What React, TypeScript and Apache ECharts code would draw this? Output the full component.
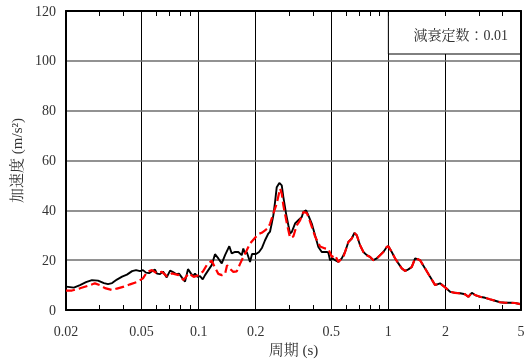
import React, { useEffect, useRef } from "react";
import * as echarts from "echarts";

const majorTicks = [0.02, 0.05, 0.1, 0.2, 0.5, 1, 2, 5];
const minorTicks = [0.03, 0.04, 0.06, 0.07, 0.08, 0.09, 0.3, 0.4, 0.6, 0.7, 0.8, 0.9, 3, 4];
const yMin = 0;
const yMax = 120;
const yStep = 20;

const xTitle = "周期 (s)";
const yTitle = "加速度 (m/s²)";
const noteText = "減衰定数：0.01";

const periodsBlack = [
  0.02, 0.021, 0.022, 0.0237, 0.0255, 0.0274, 0.0295, 0.0317, 0.0333, 0.035,
  0.0371, 0.0395, 0.0419, 0.0446, 0.0468, 0.0491, 0.0509, 0.0528, 0.0548, 0.0568,
  0.0589, 0.0603, 0.0626, 0.0649, 0.0679, 0.0707, 0.0733, 0.076, 0.0788, 0.0817,
  0.0848, 0.0879, 0.0912, 0.0934, 0.0957, 0.0987, 0.1017, 0.1051, 0.1081, 0.1125,
  0.1172, 0.122, 0.127, 0.1324, 0.1378, 0.1451, 0.1494, 0.1556, 0.1619, 0.1687,
  0.172, 0.1756, 0.1793, 0.1866, 0.1912, 0.2007, 0.2082, 0.2159, 0.2239, 0.233,
  0.2379, 0.2428, 0.2476, 0.2528, 0.258, 0.2663, 0.2742, 0.2796, 0.2889, 0.2971,
  0.3033, 0.3096, 0.3222, 0.3354, 0.3496, 0.3564, 0.3683, 0.3787, 0.3946, 0.4108,
  0.4276, 0.4456, 0.4734, 0.4827, 0.4928, 0.5092, 0.5237, 0.5451, 0.568, 0.5912,
  0.6154, 0.6413, 0.6619, 0.6815, 0.7093, 0.7383, 0.7695, 0.8009, 0.8336, 0.8687,
  0.9042, 0.9412, 0.9808, 1.0, 1.042, 1.085, 1.129, 1.177, 1.225, 1.275,
  1.329, 1.383, 1.439, 1.469, 1.561, 1.659, 1.763, 1.873, 1.99, 2.115,
  2.247, 2.388, 2.537, 2.641, 2.752, 2.864, 3.043, 3.235, 3.436, 3.651,
  3.88, 4.124, 4.38, 4.656, 5.0,
];
const accelBlack = [
  9.4, 9.2, 9.0, 10.0, 11.2, 12.0, 11.8, 10.8, 10.4, 10.8,
  12.2, 13.4, 14.2, 15.6, 16.0, 15.6, 16.0, 15.0, 14.8, 15.6,
  16.2, 14.6, 14.4, 15.4, 13.1, 15.8, 15.2, 14.4, 14.6, 13.0,
  11.4, 16.4, 14.6, 13.6, 14.6, 13.3, 13.6, 12.3, 14.0, 16.0,
  18.0, 22.4, 20.7, 18.7, 22.0, 25.6, 22.7, 23.3, 23.3, 22.0,
  24.7, 22.7, 23.3, 19.3, 22.5, 22.5, 23.3, 25.0, 28.0, 30.7,
  31.5, 34.7, 38.0, 43.3, 49.3, 51.0, 50.0, 45.3, 38.7, 34.0,
  30.7, 31.3, 34.7, 36.0, 37.3, 39.3, 40.0, 38.0, 34.7, 30.0,
  25.3, 23.3, 23.3, 23.0, 20.0, 20.7, 20.0, 19.3, 20.7, 23.3,
  27.3, 28.7, 30.9, 30.0, 26.0, 23.3, 22.0, 21.3, 20.0, 20.7,
  22.0, 23.3, 25.3, 25.6, 23.3, 20.7, 18.7, 16.7, 15.7, 16.3,
  17.3, 20.7, 20.3, 20.0, 16.7, 13.3, 10.0, 10.7, 9.1, 7.3,
  6.9, 6.7, 6.3, 5.3, 6.9, 6.0, 5.3, 4.9, 4.3, 3.7,
  3.1, 2.9, 2.9, 2.8, 2.3,
];

const periodsRed = [
  0.02, 0.0215, 0.0237, 0.0261, 0.0284, 0.0302, 0.0321, 0.035, 0.0371, 0.0404,
  0.0435, 0.0473, 0.0509, 0.0535, 0.0568, 0.0603, 0.0641, 0.0681, 0.0724, 0.0785,
  0.0832, 0.0887, 0.0942, 0.1001, 0.1055, 0.1103, 0.1172, 0.122, 0.127, 0.1324,
  0.1378, 0.1412, 0.1464, 0.1524, 0.1588, 0.1653, 0.172, 0.1793, 0.1866, 0.1983,
  0.2064, 0.2151, 0.2239, 0.233, 0.2379, 0.2476, 0.258, 0.2686, 0.2742, 0.2796,
  0.2913, 0.3033, 0.3156, 0.3289, 0.3425, 0.3564, 0.3714, 0.3866, 0.4108, 0.4365,
  0.464, 0.4827, 0.5031, 0.5237, 0.5451, 0.5792, 0.5912,
  0.6154, 0.6413, 0.6619, 0.6815, 0.7093, 0.7383, 0.7695, 0.8009, 0.8336, 0.8687,
  0.9042, 0.9412, 0.9808, 1.0, 1.042, 1.085, 1.129, 1.177, 1.225, 1.275,
  1.329, 1.383, 1.439, 1.469, 1.561, 1.659, 1.763, 1.873, 1.99, 2.115,
  2.247, 2.388, 2.537, 2.641, 2.752, 2.864, 3.043, 3.235, 3.436, 3.651,
  3.88, 4.124, 4.38, 4.656, 5.0,
];
const accelRed = [
  7.8, 7.8, 8.7, 9.7, 10.7, 10.0, 8.8, 8.0, 8.6, 9.4,
  10.3, 11.2, 12.7, 15.3, 16.0, 14.7, 15.3, 13.5, 14.7, 14.0,
  12.0, 14.7, 13.3, 14.0, 15.5, 18.0, 19.8, 17.0, 14.5, 14.0,
  14.5, 18.0, 16.5, 15.3, 15.5, 18.5, 21.3, 24.0, 26.7, 29.0,
  30.5, 31.0, 32.0, 33.0, 34.7, 38.7, 42.7, 48.7, 46.7, 42.0,
  35.0, 29.0, 29.5, 34.0, 36.0, 39.3, 39.0, 35.5, 29.5, 25.5,
  24.7, 24.5, 21.3, 22.0, 19.3, 21.3, 23.3,
  27.3, 28.7, 30.9, 30.0, 26.0, 23.3, 22.0, 21.3, 20.0, 20.7,
  22.0, 23.3, 25.3, 25.6, 23.3, 20.7, 18.7, 16.7, 15.7, 16.3,
  17.3, 20.7, 20.3, 20.0, 16.7, 13.3, 10.0, 10.7, 9.1, 7.3,
  6.9, 6.7, 6.3, 5.3, 6.9, 6.0, 5.3, 4.9, 4.3, 3.7,
  3.1, 2.9, 2.9, 2.8, 2.3,
];

export default function App() {
  const ref = useRef<HTMLDivElement>(null);
  useEffect(() => {
    if (!ref.current) return;
    const chart = echarts.init(ref.current, null, { renderer: "svg" });
    const lg = (v: number) => Math.log10(v);
    const xMin = lg(majorTicks[0]);
    const xMax = lg(majorTicks[majorTicks.length - 1]);
    const majorLogs = majorTicks.map(lg);
    const allTicks = [...majorTicks, ...minorTicks].map(lg).sort((a, b) => a - b);
    const serif = "'Liberation Serif', 'Noto Serif CJK JP', 'Noto Sans CJK JP', serif";
    const fmt = (v: number) => {
      const t = majorTicks.find((m) => Math.abs(lg(m) - v) < 1e-6);
      return t === undefined ? "" : String(t);
    };
    const frameLine = { show: true, onZero: false, lineStyle: { color: "#000", width: 2 } };
    const labelStyle = { fontFamily: serif, fontSize: 14, color: "#333" };

    chart.setOption({
      animation: false,
      grid: { left: 66, right: 3, top: 11, bottom: 50, containLabel: false, outerBoundsMode: "none" },
      xAxis: [
        {
          type: "value", position: "bottom", min: xMin, max: xMax, z: 3,
          axisLine: frameLine,
          axisTick: { show: true, inside: true, length: 5, customValues: allTicks, lineStyle: { color: "#000", width: 1 } },
          axisLabel: { ...labelStyle, customValues: majorLogs, formatter: fmt, margin: 14, showMinLabel: true, showMaxLabel: true },
          splitLine: { show: false },
          name: xTitle, nameLocation: "middle", nameGap: 28,
          nameTextStyle: { ...labelStyle, fontSize: 15 },
        },
        {
          type: "value", position: "top", min: xMin, max: xMax, z: 5,
          axisLine: frameLine,
          axisTick: { show: true, inside: true, length: 5, customValues: allTicks, lineStyle: { color: "#000", width: 1 } },
          axisLabel: { show: false },
          splitLine: { show: false },
        },
        {
          type: "value", position: "bottom", min: xMin, max: xMax, z: 0,
          axisLine: { show: false },
          axisTick: { show: false, customValues: majorLogs },
          axisLabel: { show: false, customValues: majorLogs },
          splitLine: { show: true, lineStyle: { color: "#000", width: 1 } },
        },
      ],
      yAxis: [
        {
          type: "value", position: "left", min: yMin, max: yMax, interval: yStep, z: 1,
          axisLine: frameLine,
          axisTick: { show: false },
          axisLabel: { ...labelStyle, margin: 10 },
          splitLine: { show: true, lineStyle: { color: "#6e6e6e", width: 1.5 } },
          name: yTitle, nameLocation: "middle", nameGap: 41, nameRotate: 90,
          nameTextStyle: { ...labelStyle, fontSize: 15 },
        },
        {
          type: "value", position: "right", min: yMin, max: yMax, interval: yStep, z: 5,
          axisLine: frameLine,
          axisTick: { show: false },
          axisLabel: { show: false },
          splitLine: { show: false },
        },
      ],
      series: [
        {
          type: "line", xAxisIndex: 0, yAxisIndex: 0, z: 2,
          data: periodsBlack.map((p, i) => [lg(p), accelBlack[i]]),
          showSymbol: false, symbol: "none",
          lineStyle: { color: "#000", width: 1.9 },
        },
        {
          type: "line", xAxisIndex: 0, yAxisIndex: 0, z: 2,
          data: periodsRed.map((p, i) => [lg(p), accelRed[i]]),
          showSymbol: false, symbol: "none",
          lineStyle: { color: "#ff0000", width: 2.2, type: [9, 4] },
        },
      ],
    });

    const bx = chart.convertToPixel({ xAxisIndex: 0 }, lg(1)) as number;
    const rx = chart.convertToPixel({ xAxisIndex: 0 }, xMax) as number;
    const ty = chart.convertToPixel({ yAxisIndex: 0 }, yMax) as number;
    chart.setOption({
      graphic: [
        {
          type: "rect", z: 4,
          shape: { x: bx, y: ty, width: rx - bx, height: 43 },
          style: { fill: "#fff", stroke: "#000", lineWidth: 1 },
        },
        {
          type: "text", z: 4, x: rx - 13, y: ty + 24,
          style: { text: noteText, align: "right", verticalAlign: "middle", font: `14px ${serif}`, fill: "#333" },
        },
      ],
    });

    return () => chart.dispose();
  }, []);
  return <div ref={ref} style={{ position: "fixed", left: 0, top: 0, width: 524, height: 360 }} />;
}
